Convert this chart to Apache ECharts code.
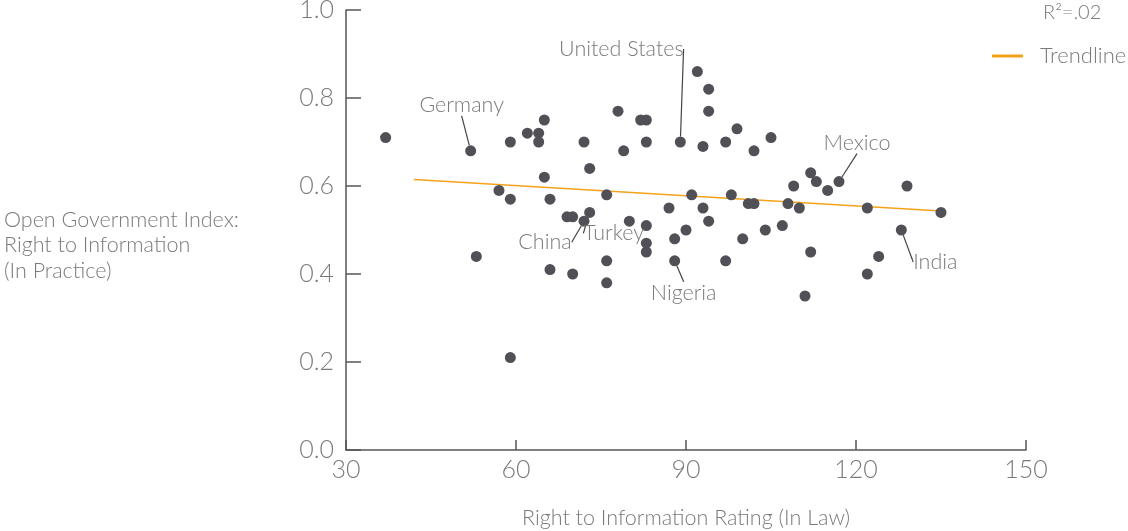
<!DOCTYPE html>
<html>
<head>
<meta charset="utf-8">
<title>Right to Information</title>
<script src="https://cdn.jsdelivr.net/npm/echarts@6/dist/echarts.min.js"></script>
<style>
  html, body { margin: 0; padding: 0; background: #fff; }
  #chart { width: 1128px; height: 531px; }
</style>
</head>
<body>
<div id="chart"></div>
<script>
// Right to Information rating (in law) vs Open Government Index (in practice)
const LAW = [
  37, 52, 53, 57, 59, 59, 59, 62, 64, 64, 65, 65, 66, 66, 69, 70, 70, 72, 72, 73,
  73, 76, 76, 76, 78, 79, 80, 82, 83, 83, 83, 83, 83, 87, 88, 88, 89, 90, 91, 92,
  93, 93, 94, 94, 94, 97, 97, 98, 99, 100, 101, 102, 102, 104, 105, 107, 108, 109, 110, 111,
  112, 112, 113, 115, 117, 122, 122, 124, 128, 129, 135
]
const PRACTICE = [
  0.71, 0.68, 0.44, 0.59, 0.70, 0.57, 0.21, 0.72, 0.72, 0.70, 0.75, 0.62, 0.57, 0.41, 0.53, 0.53, 0.40, 0.70, 0.52, 0.64,
  0.54, 0.58, 0.43, 0.38, 0.77, 0.68, 0.52, 0.75, 0.75, 0.70, 0.51, 0.47, 0.45, 0.55, 0.48, 0.43, 0.70, 0.50, 0.58, 0.86,
  0.69, 0.55, 0.82, 0.77, 0.52, 0.70, 0.43, 0.58, 0.73, 0.48, 0.56, 0.56, 0.68, 0.50, 0.71, 0.51, 0.56, 0.60, 0.55, 0.35,
  0.63, 0.45, 0.61, 0.59, 0.61, 0.55, 0.40, 0.44, 0.50, 0.60, 0.54
]
// index into the arrays above -> country name
const NAMED = { 1: 'Germany', 18: 'China', 20: 'Turkey', 35: 'Nigeria', 36: 'United States', 64: 'Mexico', 68: 'India' }
// label offsets from the dot (px)
const LABEL_OFFSET = {
  Germany: [-9, -46],
  'United States': [-59, -93],
  Mexico: [18, -39],
  China: [-39, 21],
  Turkey: [24, 21],
  Nigeria: [9, 32],
  India: [34, 32],
}
const TREND_X = [42, 135]
const TREND_Y = [0.615, 0.543]
const R2_TEXT = 'R²=.02'

const FONT = 'Lato, "Open Sans", sans-serif'
const TEXT_GREY = '#7a7a7a'
const AXIS_GREY = '#555'

const points = LAW.map((x, i) => {
  const item = { value: [x, PRACTICE[i]] }
  if (NAMED[i]) item.name = NAMED[i]
  return item
})

const chart = echarts.init(document.getElementById('chart'))

chart.setOption({
  animation: false,
  backgroundColor: '#fff',
  textStyle: { fontFamily: FONT },
  grid: { left: 346, right: 102, top: 10, bottom: 81, outerBoundsMode: 'none', containLabel: false },
  legend: {
    left: 987,
    top: 40,
    data: ['Trendline'],
    icon: 'rect',
    itemWidth: 31,
    itemHeight: 3,
    itemGap: 10,
    textStyle: { color: TEXT_GREY, fontSize: 22, fontWeight: 300, fontFamily: FONT, padding: [0, 0, 0, 12] },
  },
  graphic: [
    {
      type: 'text',
      left: 1043,
      top: 3,
      style: { text: R2_TEXT, fill: TEXT_GREY, font: '300 20px ' + FONT },
    },
    {
      type: 'text',
      left: 4,
      top: 207,
      style: {
        text: 'Open Government Index:\nRight to Information\n(In Practice)',
        fill: TEXT_GREY,
        font: '300 21.5px ' + FONT,
        lineHeight: 25.5,
      },
    },
  ],
  xAxis: {
    type: 'value',
    min: 30,
    max: 150,
    interval: 30,
    name: 'Right to Information Rating (In Law)',
    nameLocation: 'middle',
    nameGap: 57,
    nameTextStyle: { color: TEXT_GREY, fontSize: 21.5, fontWeight: 300 },
    axisLine: { lineStyle: { color: AXIS_GREY, width: 1.5 } },
    axisTick: { inside: true, length: 10, lineStyle: { color: AXIS_GREY, width: 1.5 } },
    axisLabel: { color: TEXT_GREY, fontSize: 25, fontWeight: 300, margin: 7 },
    splitLine: { show: false },
  },
  yAxis: {
    type: 'value',
    min: 0,
    max: 1,
    interval: 0.2,
    axisLine: { show: true, lineStyle: { color: AXIS_GREY, width: 1.5 } },
    axisTick: { show: true, inside: true, length: 15, lineStyle: { color: AXIS_GREY, width: 1.5 } },
    axisLabel: {
      color: TEXT_GREY,
      fontSize: 25,
      fontWeight: 300,
      margin: 12,
      formatter: v => v.toFixed(1),
    },
    splitLine: { show: false },
  },
  series: [
    {
      name: 'Trendline',
      type: 'line',
      data: TREND_X.map((x, i) => [x, TREND_Y[i]]),
      showSymbol: false,
      symbol: 'none',
      itemStyle: { color: '#f5a21b' },
      lineStyle: { color: '#f5a21b', width: 1.5 },
      z: 1,
    },
    {
      name: 'Countries',
      type: 'scatter',
      data: points,
      symbolSize: 11,
      itemStyle: { color: '#505056', opacity: 1 },
      label: {
        show: true,
        position: 'inside',
        formatter: p => p.name || '',
        color: TEXT_GREY,
        fontSize: 21.5,
        fontWeight: 300,
        fontFamily: FONT,
      },
      labelLine: { show: true, lineStyle: { color: '#444', width: 1.2 } },
      labelLayout: p => {
        const name = NAMED[p.dataIndex]
        if (!name) return {}
        const off = LABEL_OFFSET[name]
        return { dx: off[0], dy: off[1] }
      },
      z: 2,
    },
  ],
})
</script>
</body>
</html>
